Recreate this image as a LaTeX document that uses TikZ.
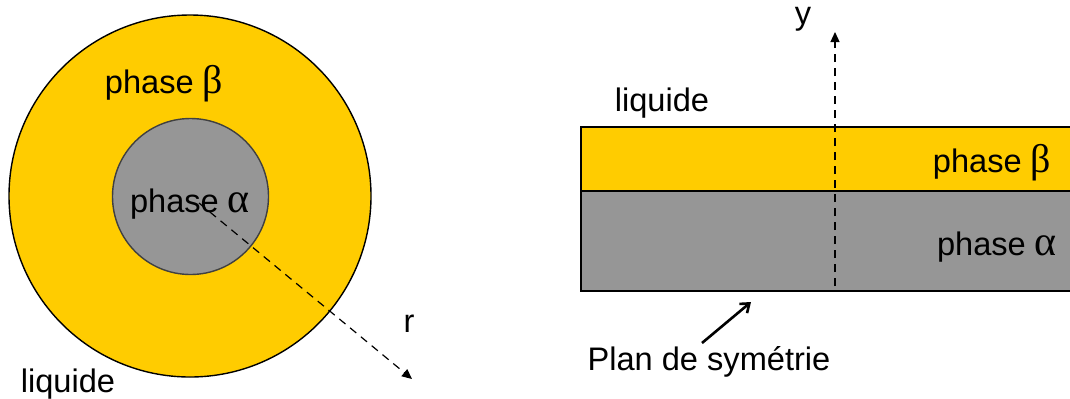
\documentclass[tikz,border=0pt]{standalone}
\usepackage{fontspec}
\setmainfont{Liberation Sans}
\newfontfamily\grk{Liberation Serif}
\usetikzlibrary{arrows.meta}
\definecolor{phb}{RGB}{255,204,0}
\definecolor{pha}{RGB}{150,150,150}
\newcommand{\gb}{{\grk\fontsize{20}{20}\selectfont β}}
\newcommand{\ga}{{\grk\fontsize{21}{20}\selectfont α}}
\tikzset{
  lbl/.style={font=\fontsize{16.3}{19}\selectfont, inner sep=0pt},
  edgeline/.style={line width=0.7pt, draw=black},
  axis/.style={dashed, line width=0.6pt, dash pattern=on 4pt off 3pt, -{Triangle[length=5pt,width=4.5pt]}},
  pointer/.style={line width=1.3pt, -{Straight Barb[length=4pt,width=6pt]}}
}
\begin{document}
\begin{tikzpicture}[x=0.5pt,y=-0.5pt]
\useasboundingbox (0,0) rectangle (1070,398);
% left: circles
\fill[phb] (190,196) circle[radius=181];
\draw[edgeline] (190,196) circle[radius=181];
\fill[pha] (190.5,196.5) circle[radius=78];
\draw[edgeline, draw=black!75] (190.5,196.5) circle[radius=78];
\node[lbl] (pb) at (164,84) {phase \gb};
\node[lbl] (pa) at (190,204) {phase \ga};
\node[lbl] (liq1) at (68,384) {liquide};
\node[lbl] (r) at (409,324) {r};
\coordinate (r0) at (199,203);
\coordinate (r1) at (412,379);
\draw[axis] (r0) -- (r1);
% right: slab
\fill[phb] (581,127) rectangle (1070,191);
\fill[pha] (581,191) rectangle (1070,291);
\draw[edgeline] (1070,127) -- (581,127) -- (581,291) -- (1070,291);
\draw[edgeline] (581,191) -- (1070,191);
\node[lbl] (liq2) at (662,103) {liquide};
\node[lbl] (pb2) at (992,163) {phase \gb};
\node[lbl] (pa2) at (997,247) {phase \ga};
\node[lbl] (y) at (803,19) {y};
\coordinate (y0) at (835,286);
\coordinate (y1) at (835,32);
\draw[axis] (y0) -- (y1);
\node[lbl] (plan) at (709,362) {Plan de symétrie};
\coordinate (p0) at (702,343);
\coordinate (p1) at (751,302);
\draw[pointer] (p0) -- (p1);
\end{tikzpicture}
\end{document}
